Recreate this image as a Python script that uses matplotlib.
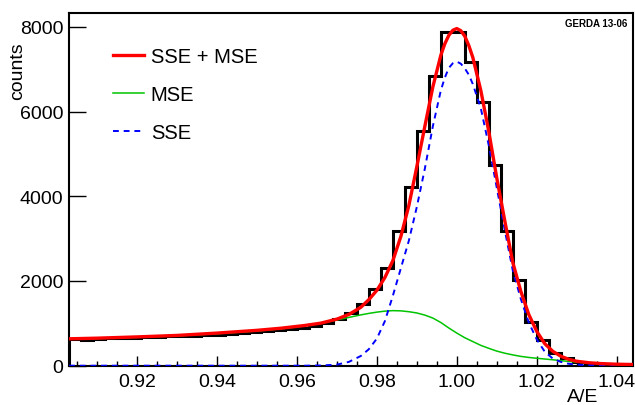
import numpy as np
import matplotlib
matplotlib.use("Agg")
import matplotlib.pyplot as plt
from matplotlib.ticker import MultipleLocator

plt.rcParams['font.family'] = ['Liberation Sans', 'DejaVu Sans']

# histogram: 47 bins of width 0.003 from 0.903 to 1.044
edges = np.linspace(0.903, 1.044, 48)
counts = [620, 615, 640, 660, 655, 665, 675, 680, 690, 700,
          705, 720, 735, 745, 770, 790, 820, 850, 870, 900,
          930, 1000, 1110, 1240, 1450, 1800, 2310, 3170, 4230, 5530,
          6850, 7890, 7890, 7180, 6230, 4750, 3170, 2030, 1040, 610,
          310, 170, 85, 50, 30, 20, 15]

# fitted curves on a common A/E grid
ae = [0.903, 0.910, 0.920, 0.930, 0.940, 0.950, 0.956, 0.962, 0.966, 0.970,
      0.973, 0.976, 0.978, 0.980, 0.982, 0.984, 0.986, 0.988, 0.990, 0.992,
      0.994, 0.996, 0.997, 0.998, 0.999, 1.000, 1.001, 1.002, 1.003, 1.004,
      1.006, 1.008, 1.010, 1.012, 1.014, 1.016, 1.018, 1.020, 1.022, 1.024,
      1.026, 1.028, 1.030, 1.033, 1.036, 1.040, 1.044]
total = [635, 650, 680, 715, 770, 835, 885, 950, 1005, 1100,
         1210, 1380, 1560, 1780, 2080, 2480, 3050, 3780, 4700, 5650,
         6580, 7330, 7600, 7800, 7920, 7960, 7910, 7780, 7560, 7280,
         6500, 5530, 4430, 3420, 2440, 1760, 1210, 810, 520, 340,
         225, 150, 105, 70, 50, 35, 28]
mse = [625, 640, 670, 705, 755, 820, 870, 940, 1000, 1080,
       1140, 1200, 1235, 1265, 1288, 1300, 1295, 1275, 1245, 1195,
       1125, 1020, 955, 890, 830, 770, 715, 660, 615, 570,
       480, 410, 345, 295, 255, 220, 195, 175, 158, 140,
       120, 100, 85, 65, 50, 35, 25]
sse = [0, 0, 0, 0, 0, 0, 0, 0, 5, 25,
       90, 230, 390, 640, 1050, 1650, 2300, 2950, 3750, 4650,
       5650, 6500, 6800, 7030, 7140, 7180, 7130, 7020, 6870, 6650,
       6080, 5200, 4200, 3200, 2250, 1580, 1020, 620, 330, 170,
       90, 45, 25, 12, 6, 3, 1]

fig = plt.figure(figsize=(6.35, 4.06), dpi=100)
ax = fig.add_axes([0.1087, 0.0968, 0.8877, 0.8695])

ax.stairs(counts, edges, baseline=0, color='black', lw=2.2, zorder=2)
ax.plot(ae, mse, color='#00c400', lw=1.1, zorder=3, label='MSE')
ax.plot(ae, sse, color='#0000ff', lw=1.4, ls=(0, (3, 2.5)), zorder=3, label='SSE')
ax.plot(ae, total, color='#ff0000', lw=2.4, zorder=4, label='SSE + MSE',
        solid_joinstyle='round')

ax.set_xlim(0.903, 1.044)
ax.set_ylim(0, 8335)

ax.xaxis.set_major_locator(MultipleLocator(0.02))
ax.xaxis.set_minor_locator(MultipleLocator(0.005))
ax.xaxis.set_major_formatter(matplotlib.ticker.FormatStrFormatter('%.2f'))
ax.yaxis.set_major_locator(MultipleLocator(2000))
ax.tick_params(axis='x', which='major', direction='in', length=7.2, width=1, labelsize=14, pad=5)
ax.tick_params(axis='x', which='minor', direction='in', length=3.6, width=1)
ax.tick_params(axis='y', which='major', direction='in', length=12.2, width=1, labelsize=14, pad=4)
for s in ax.spines.values():
    s.set_linewidth(1.5)

fig.text(598 / 635, 1 - 398 / 406, 'A/E', fontsize=14, ha='right', va='center')
fig.text(18 / 635, 1 - 42 / 406, 'counts', fontsize=14, rotation=90, ha='center', va='top')

h, l = ax.get_legend_handles_labels()
order = [2, 0, 1]
ax.legend([h[i] for i in order], [l[i] for i in order], loc='upper left',
          bbox_to_anchor=(0.045, 0.955), frameon=False, fontsize=14.5,
          handlelength=1.55, handletextpad=0.35, labelspacing=0.95)

ax.text(0.99, 0.985, 'GERDA 13-06', transform=ax.transAxes, ha='right', va='top',
        fontsize=7, fontweight='bold')

fig.savefig('out.png', dpi=100)
